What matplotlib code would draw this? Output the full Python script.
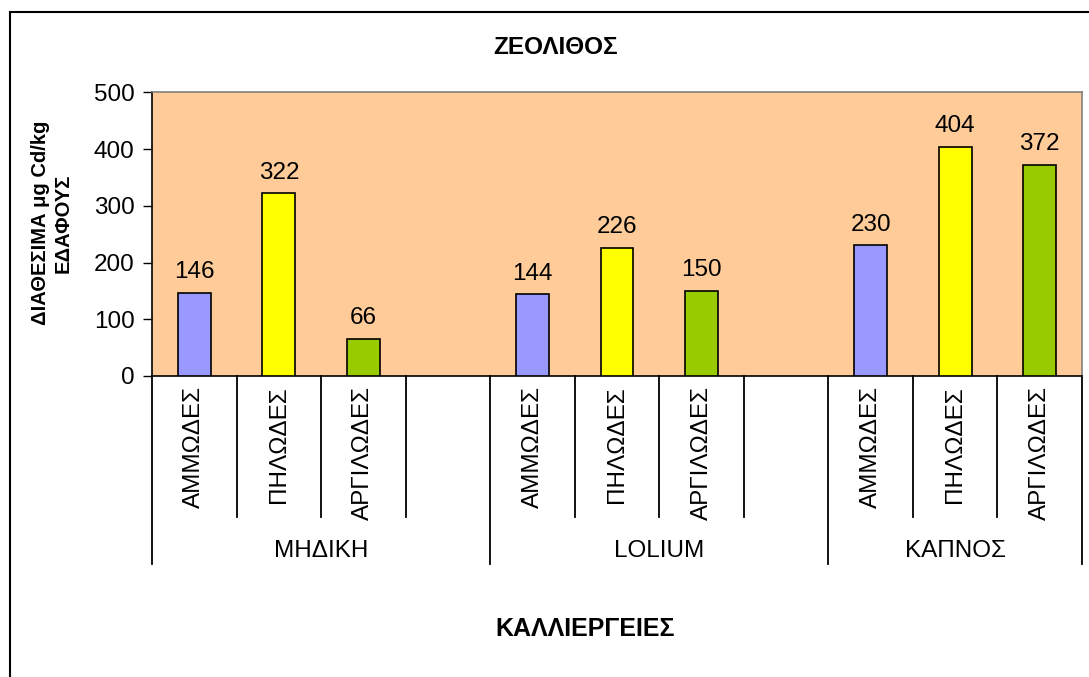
import matplotlib
matplotlib.use("Agg")
import matplotlib.pyplot as plt
from matplotlib.transforms import blended_transform_factory
from matplotlib.patches import Rectangle

plt.rcParams['font.family'] = ['Liberation Sans', 'DejaVu Sans']

# ---- data ----
slot_labels = ['ΑΜΜΩΔΕΣ', 'ΠΗΛΩΔΕΣ', 'ΑΡΓΙΛΩΔΕΣ', '',
               'ΑΜΜΩΔΕΣ', 'ΠΗΛΩΔΕΣ', 'ΑΡΓΙΛΩΔΕΣ', '',
               'ΑΜΜΩΔΕΣ', 'ΠΗΛΩΔΕΣ', 'ΑΡΓΙΛΩΔΕΣ']
slot_values = [146, 322, 66, None,
               144, 226, 150, None,
               230, 404, 372]
group_labels = ['ΜΗΔΙΚΗ', 'LOLIUM', 'ΚΑΠΝΟΣ']
group_sizes = [4, 4, 3]
soil_colors = {'ΑΜΜΩΔΕΣ': '#9999FF', 'ΠΗΛΩΔΕΣ': '#FFFF00', 'ΑΡΓΙΛΩΔΕΣ': '#99CC00'}
y_ticks = [0, 100, 200, 300, 400, 500]

title = 'ΖΕΟΛΙΘΟΣ'
ylabel = 'ΔΙΑΘΕΣΙΜΑ μg Cd/kg\nΕΔΑΦΟΥΣ'
xlabel = 'ΚΑΛΛΙΕΡΓΕΙΕΣ'

FS = 17.5
W, H = 1089, 677
fig = plt.figure(figsize=(W / 100, H / 100), dpi=100)
fig.patch.set_facecolor('white')

# outer frame
fig.patches.append(Rectangle((10 / W, -0.05), 1.1, (H - 12) / H + 0.05,
                             transform=fig.transFigure, fill=False,
                             edgecolor='black', linewidth=1.5))

left, right, top, bottom = 152, 1082, 92.3, 376
ax = fig.add_axes([left / W, (H - bottom) / H, (right - left) / W, (bottom - top) / H])
ax.set_facecolor('#FFCC99')

n = len(slot_labels)
xs = list(range(n))
for x, lab, v in zip(xs, slot_labels, slot_values):
    if v is None:
        continue
    ax.bar(x, v, width=0.39, color=soil_colors[lab], edgecolor='black', linewidth=1.2, zorder=3)
    ax.annotate(str(v), (x, v), xytext=(0, 7), textcoords='offset points',
                ha='center', va='bottom', fontsize=FS)

ax.set_xlim(-0.5, n - 0.5)
ax.set_ylim(0, 500)
ax.set_yticks(y_ticks)
ax.tick_params(axis='y', length=6.5, width=1, labelsize=FS, pad=6)
ax.set_xticks([])
for s in ['top', 'right']:
    ax.spines[s].set_color('#808080')
    ax.spines[s].set_linewidth(1.2)
for s in ['left', 'bottom']:
    ax.spines[s].set_color('black')
    ax.spines[s].set_linewidth(1.2)

# multi-level category axis
tr = blended_transform_factory(ax.transData, fig.transFigure)
y_axis = (H - bottom) / H
y_inner = (H - 517) / H
y_group = (H - 564) / H
group_edges = [0]
for g in group_sizes:
    group_edges.append(group_edges[-1] + g)
for k in range(n + 1):
    y_end = y_group if k in group_edges else y_inner
    ax.plot([k - 0.5, k - 0.5], [y_axis, y_end], transform=tr, color='black',
            linewidth=1.3, clip_on=False)
for x, lab in zip(xs, slot_labels):
    if lab:
        ax.text(x, (H - 386) / H, lab, transform=tr, rotation=90, ha='center',
                va='top', fontsize=FS)
for i, g in enumerate(group_labels):
    c = (group_edges[i] + group_edges[i + 1]) / 2 - 0.5
    ax.text(c, (H - 551) / H, g, transform=tr, ha='center', va='center', fontsize=FS)

fig.text(556 / W, (H - 48) / H, title, ha='center', va='center', fontsize=17.5, fontweight='bold')
fig.text(585 / W, (H - 629) / H, xlabel, ha='center', va='center', fontsize=18, fontweight='bold')
fig.text(52 / W, (H - 223) / H, ylabel, ha='center', va='center', rotation=90,
         fontsize=14.5, fontweight='bold', linespacing=1.2)

fig.savefig('out.png', dpi=100)
